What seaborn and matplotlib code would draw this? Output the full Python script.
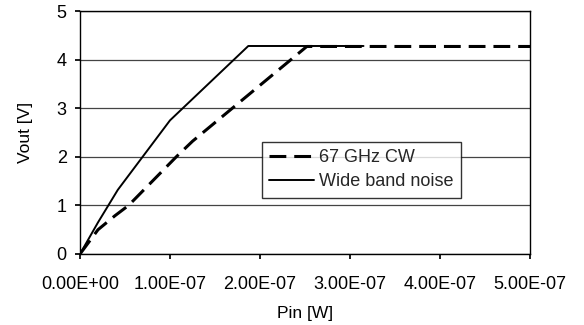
import matplotlib
matplotlib.use("Agg")
import matplotlib.pyplot as plt
import seaborn as sns
import pandas as pd

cw_x = [0.0, 0.1e-7, 0.2e-7, 0.39e-7, 0.54e-7, 1.07e-7, 1.25e-7, 2.52e-7, 5.0e-7]
cw_y = [0.0, 0.25, 0.5, 0.79, 1.0, 2.0, 2.32, 4.27, 4.27]
wb_x = [0.0, 0.2e-7, 0.42e-7, 1.0e-7, 1.87e-7, 3.15e-7]
wb_y = [0.0, 0.65, 1.32, 2.75, 4.28, 4.28]
x_ticks = [0, 1e-7, 2e-7, 3e-7, 4e-7, 5e-7]
x_labels = ["0.00E+00", "1.00E-07", "2.00E-07", "3.00E-07", "4.00E-07", "5.00E-07"]
y_ticks = [0, 1, 2, 3, 4, 5]

sns.set_theme(style="white")
plt.rcParams['font.family'] = ['Liberation Sans', 'DejaVu Sans']

df_cw = pd.DataFrame({"x": cw_x, "y": cw_y})
df_wb = pd.DataFrame({"x": wb_x, "y": wb_y})

fig = plt.figure(figsize=(5.84, 3.25), dpi=100)
ax = fig.add_axes([80/584, 1 - 254/325, (530-80)/584, (254-11)/325])

sns.lineplot(data=df_cw, x="x", y="y", ax=ax, color="black", lw=2.2,
             linestyle=(0, (5.5, 2.6)), label="67 GHz CW", sort=False)
sns.lineplot(data=df_wb, x="x", y="y", ax=ax, color="black", lw=1.4,
             label="Wide band noise", sort=False)

ax.set_xlim(0, 5e-7)
ax.set_ylim(0, 5)
ax.set_xticks(x_ticks)
ax.set_xticklabels(x_labels)
ax.set_yticks(y_ticks)
ax.yaxis.grid(True, color="#444444", lw=0.9)
ax.xaxis.grid(False)
for s in ax.spines.values():
    s.set_color("black")
    s.set_linewidth(1.0)
ax.tick_params(axis="both", which="major", labelsize=13, colors="black",
               length=3.5, direction="out", bottom=True, left=True)
ax.tick_params(axis="x", pad=12)
ax.tick_params(axis="y", pad=6)
ax.set_xlabel("Pin [W]", fontsize=12.5, color="black", labelpad=10)
ax.set_ylabel("Vout [V]", fontsize=12.5, color="black", labelpad=17)

leg = ax.legend(loc="upper left", bbox_to_anchor=((262-80)/450, (254-142)/243),
                frameon=True, fancybox=False, fontsize=13, handlelength=2.5,
                borderpad=0.4, labelspacing=0.4, handletextpad=0.25,
                borderaxespad=0)
leg.get_frame().set_edgecolor("black")
leg.get_frame().set_linewidth(1.0)

fig.savefig("out.png", dpi=100)
